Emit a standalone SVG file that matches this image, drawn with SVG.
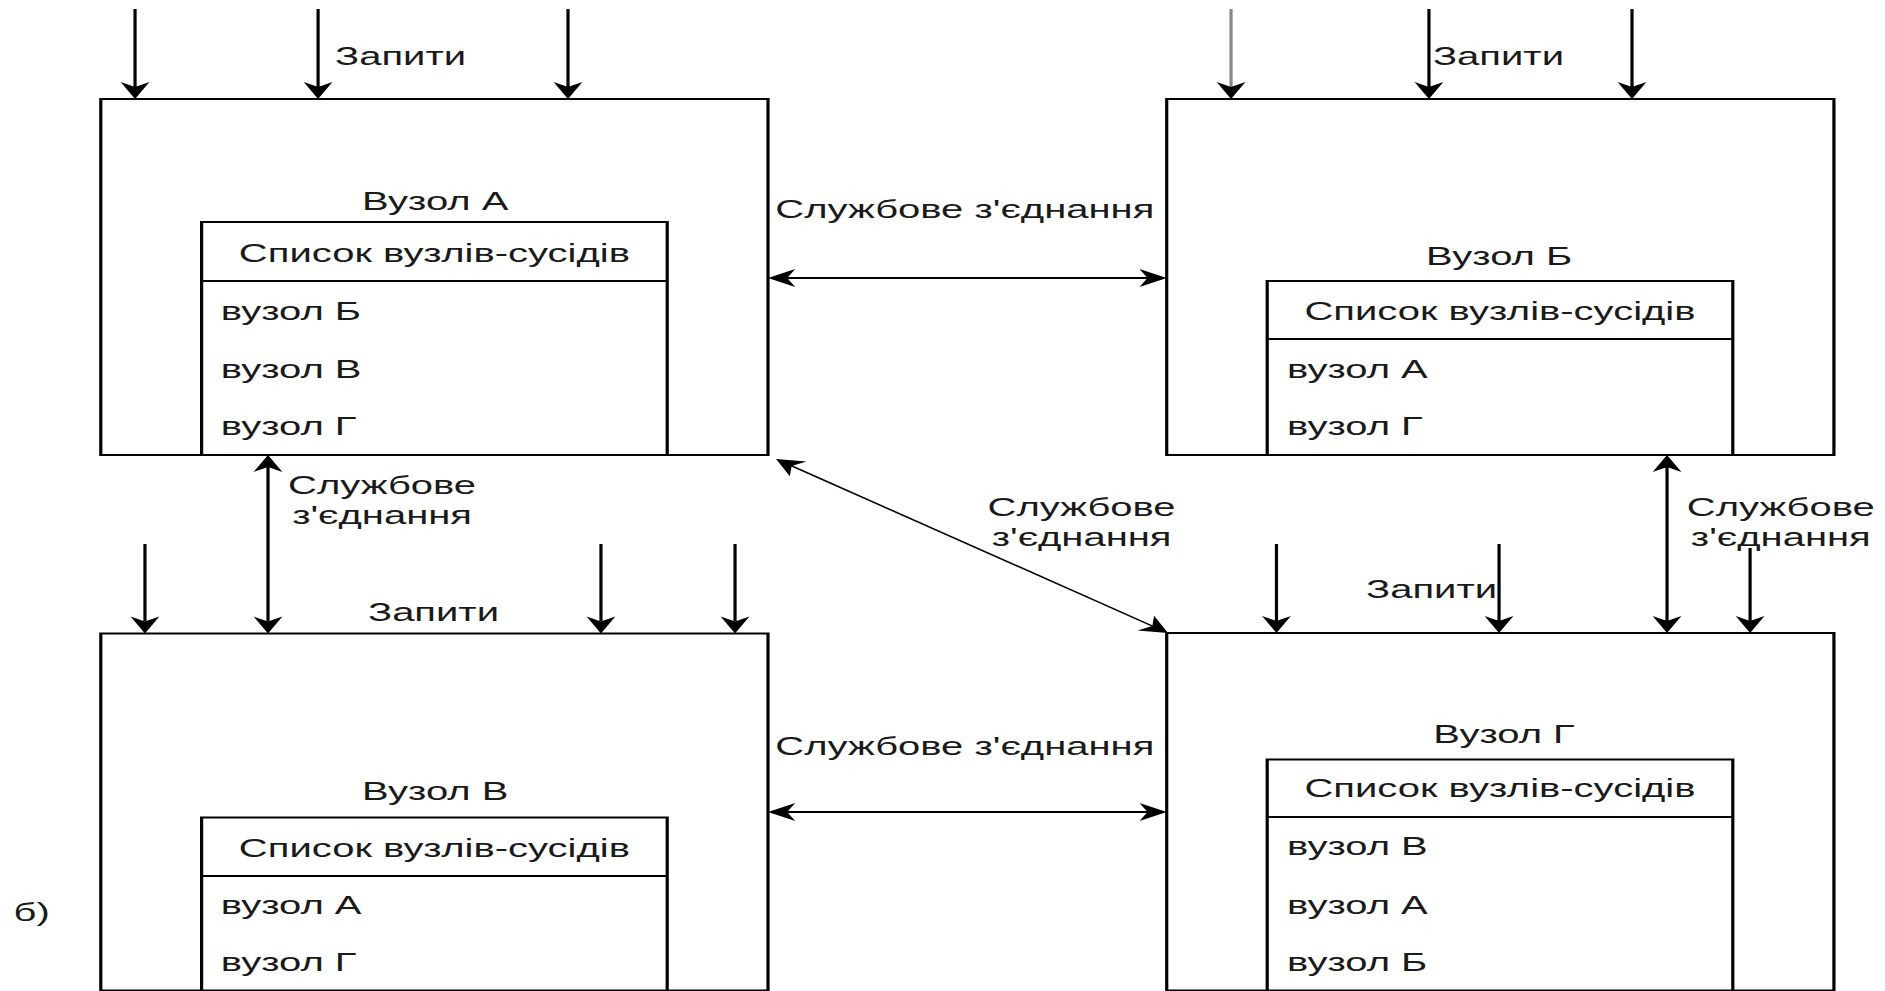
<svg xmlns="http://www.w3.org/2000/svg" width="1885" height="991" viewBox="0 0 1885 991">
<style>
.box{fill:#fff;stroke:#000;stroke-width:2}
.t{font-family:"Liberation Sans",Arial,sans-serif;font-size:25px;fill:#1a1a1a}
.c{text-anchor:middle}
.ln{stroke:#000;stroke-width:2;fill:none}
.one{marker-end:url(#ah)}
.two{marker-start:url(#ah);marker-end:url(#ah)}
</style>
<defs>
<marker id="ah" markerUnits="userSpaceOnUse" orient="auto-start-reverse" markerWidth="24" markerHeight="24" viewBox="-8 -12 24 24" refX="0" refY="0" overflow="visible">
<path d="M12,0 L-5,-9 L0,0 L-5,9 Z" fill="#000"/>
</marker>
</defs>
<rect width="1885" height="991" fill="#fff"/>
<g transform="scale(1.6,1)">
<g id="node-a">
<rect class="box" x="63" y="99" width="417" height="356"/>
<text class="t c" x="272" y="210">Вузол А</text>
<rect class="box" x="126" y="222" width="291" height="233"/>
<line class="ln" x1="126" y1="281" x2="417" y2="281"/>
<text class="t c" x="271.5" y="262">Список вузлів-сусідів</text>
<text class="t" x="138" y="320">вузол Б</text>
<text class="t" x="138" y="378">вузол В</text>
<text class="t" x="138" y="435">вузол Г</text>
</g>
<g id="node-b">
<rect class="box" x="729.2" y="99" width="417" height="356"/>
<text class="t c" x="937" y="265">Вузол Б</text>
<rect class="box" x="792" y="281" width="291" height="174"/>
<line class="ln" x1="792" y1="339" x2="1083" y2="339"/>
<text class="t c" x="937.5" y="320">Список вузлів-сусідів</text>
<text class="t" x="804.4" y="378">вузол А</text>
<text class="t" x="804.4" y="435">вузол Г</text>
</g>
<g id="node-v">
<rect class="box" x="63" y="633.5" width="417" height="357"/>
<text class="t c" x="272" y="800">Вузол В</text>
<rect class="box" x="126" y="817.5" width="291" height="173"/>
<line class="ln" x1="126" y1="876" x2="417" y2="876"/>
<text class="t c" x="271.5" y="857">Список вузлів-сусідів</text>
<text class="t" x="138" y="914">вузол А</text>
<text class="t" x="138" y="971">вузол Г</text>
</g>
<g id="node-g">
<rect class="box" x="729.2" y="633" width="417" height="357.5"/>
<text class="t c" x="940" y="743">Вузол Г</text>
<rect class="box" x="792" y="759.5" width="291" height="231"/>
<line class="ln" x1="792" y1="817" x2="1083" y2="817"/>
<text class="t c" x="937.5" y="797">Список вузлів-сусідів</text>
<text class="t" x="804.4" y="855.5">вузол В</text>
<text class="t" x="804.4" y="914">вузол А</text>
<text class="t" x="804.4" y="971">вузол Б</text>
</g>
<g id="connectors">
<line class="ln one" x1="84.4" y1="9" x2="84.4" y2="87"/>
<line class="ln one" x1="198.8" y1="9" x2="198.8" y2="87"/>
<line class="ln one" x1="355" y1="9" x2="355" y2="87"/>
<line class="ln one" x1="769.4" y1="9" x2="769.4" y2="87" style="stroke:#888"/>
<line class="ln one" x1="893.1" y1="9" x2="893.1" y2="87"/>
<line class="ln one" x1="1020" y1="9" x2="1020" y2="87"/>
<line class="ln one" x1="90.6" y1="544" x2="90.6" y2="621.5"/>
<line class="ln one" x1="375.6" y1="544" x2="375.6" y2="621.5"/>
<line class="ln one" x1="459.4" y1="544" x2="459.4" y2="621.5"/>
<line class="ln one" x1="797.8" y1="544" x2="797.8" y2="621"/>
<line class="ln one" x1="936.9" y1="544" x2="936.9" y2="621"/>
<line class="ln one" x1="1093.8" y1="548" x2="1093.8" y2="621"/>
<line class="ln two" x1="492" y1="278" x2="717.2" y2="278"/>
<line class="ln two" x1="492" y1="812" x2="717.2" y2="812"/>
<line class="ln two" x1="167.5" y1="467" x2="167.5" y2="621.5"/>
<line class="ln two" x1="1041.9" y1="467" x2="1041.9" y2="621"/>
<line class="ln two" style="stroke-width:1.4" x1="494.8" y1="465.9" x2="720.2" y2="626"/>
<text class="t c" x="603" y="218">Службове з'єднання</text>
<text class="t c" x="603" y="755">Службове з'єднання</text>
<text class="t c" x="238.8" y="494">Службове</text>
<text class="t c" x="238.8" y="524">з'єднання</text>
<text class="t c" x="676" y="516">Службове</text>
<text class="t c" x="676" y="546">з'єднання</text>
<text class="t c" x="1113" y="516">Службове</text>
<text class="t c" x="1113" y="546">з'єднання</text>
<text class="t" x="209.4" y="65">Запити</text>
<text class="t" x="895.6" y="65">Запити</text>
<text class="t" x="230" y="621">Запити</text>
<text class="t" x="853.8" y="598">Запити</text>
</g>
<text class="t" x="8.5" y="921">б)</text>
</g>
</svg>
